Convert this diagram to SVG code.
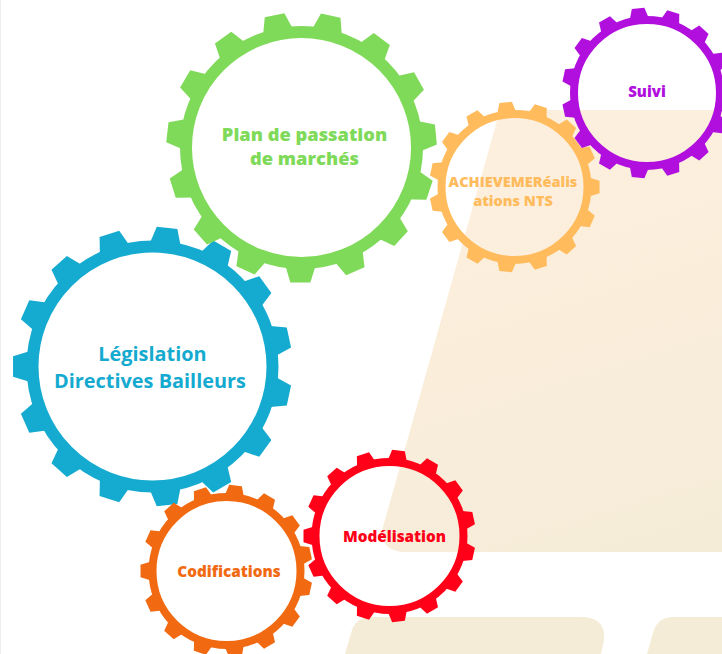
<svg xmlns="http://www.w3.org/2000/svg" xmlns:xlink="http://www.w3.org/1999/xlink" width="722" height="654" viewBox="0 0 722 654">
<style>
text{font-family:"Open Sans","Noto Sans",sans-serif;font-weight:800;text-anchor:middle}
.ring{fill:none}
</style>
<defs>
<linearGradient id="bg" gradientUnits="userSpaceOnUse" x1="500" y1="110" x2="640" y2="552"><stop offset="0" stop-color="#fdefdd"/><stop offset="0.5" stop-color="#faeedb"/><stop offset="1" stop-color="#f5ecd8"/></linearGradient>
<polygon id="t" points="112,-17 135,-10 135,10 112,17"/>
<g id="teeth">
<use xlink:href="#t"/><use xlink:href="#t" transform="rotate(24)"/><use xlink:href="#t" transform="rotate(48)"/><use xlink:href="#t" transform="rotate(72)"/><use xlink:href="#t" transform="rotate(96)"/><use xlink:href="#t" transform="rotate(120)"/><use xlink:href="#t" transform="rotate(144)"/><use xlink:href="#t" transform="rotate(168)"/><use xlink:href="#t" transform="rotate(192)"/><use xlink:href="#t" transform="rotate(216)"/><use xlink:href="#t" transform="rotate(240)"/><use xlink:href="#t" transform="rotate(264)"/><use xlink:href="#t" transform="rotate(288)"/><use xlink:href="#t" transform="rotate(312)"/><use xlink:href="#t" transform="rotate(336)"/>
</g>
</defs>
<rect width="722" height="654" fill="#fff"/>
<rect width="1" height="654" fill="#eeeeee"/>
<g id="background">
<path d="M500 110H722V552H406Q379 552 383 527Z" fill="url(#bg)"/>
<path d="M345 654L352 630Q356 617 373 617H581Q606 617 604 640L601 654Z" fill="#f5ecd8"/>
<path d="M647 654L653 633Q657 617 674 617H722V654Z" fill="#f5ecd8"/>
</g>
<g id="connectors"/>
<g id="gear-legislation" fill="#15aacf">
<use xlink:href="#teeth" transform="translate(152.5 366.5) rotate(180) scale(1.033)"/>
<circle class="ring" cx="152.5" cy="366.5" r="120" stroke="#15aacf" stroke-width="12"/>
<text x="152.5" y="361" font-size="19.900" style="font-weight:700">Législation</text>
<text x="150" y="388" font-size="19.900" style="font-weight:700">Directives Bailleurs</text>
</g>
<g id="gear-plan" fill="#80da5a">
<use xlink:href="#teeth" transform="translate(301.500 147.500) rotate(90.500)"/>
<circle class="ring" cx="301.500" cy="147.500" r="115.500" stroke="#80da5a" stroke-width="12"/>
<text x="304.500" y="141" font-size="18.300">Plan de passation</text>
<text x="304.500" y="165" font-size="18.300">de marchés</text>
</g>
<g id="gear-realisations" fill="#ffbb5c">
<use xlink:href="#teeth" transform="translate(514.500 187) scale(.63)"/>
<circle class="ring" cx="514.500" cy="187" r="73" stroke="#ffbb5c" stroke-width="8"/>
<text x="513" y="187" font-size="14.500">ACHIEVEMERéalis</text>
<text x="513" y="206" font-size="14.500">ations NTS</text>
</g>
<g id="gear-suivi" fill="#b10fdd">
<use xlink:href="#teeth" transform="translate(647 93) scale(.63)"/>
<circle class="ring" cx="647" cy="93" r="73" stroke="#b10fdd" stroke-width="8"/>
<text x="647" y="96.500" font-size="15">Suivi</text>
</g>
<g id="gear-codifications" fill="#f16a12">
<use xlink:href="#teeth" transform="translate(226.500 571) rotate(180) scale(.637)"/>
<circle class="ring" cx="226.500" cy="571" r="74" stroke="#f16a12" stroke-width="8"/>
<text x="229" y="577" font-size="15.300">Codifications</text>
</g>
<g id="gear-modelisation" fill="#ff0018">
<use xlink:href="#teeth" transform="translate(389.500 536) rotate(180) scale(.637)"/>
<circle class="ring" cx="389.500" cy="536" r="74" stroke="#ff0018" stroke-width="8"/>
<text x="394.500" y="542" font-size="15.300">Modélisation</text>
</g>
</svg>
